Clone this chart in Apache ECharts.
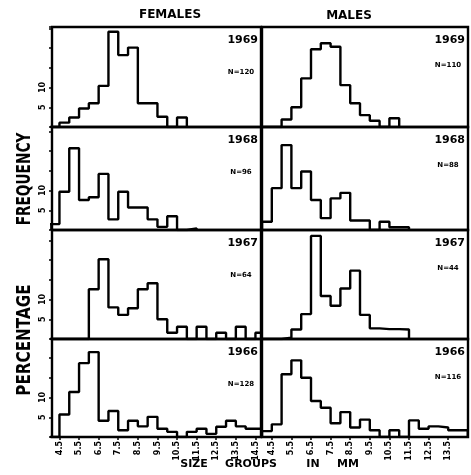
<!DOCTYPE html>
<html>
<head>
<meta charset="utf-8">
<script src="https://cdn.jsdelivr.net/npm/echarts@6/dist/echarts.min.js"></script>
<style>
html, body { margin: 0; padding: 0; background: #fff; }
#chart { width: 471px; height: 475px; }
</style>
</head>
<body>
<div id="chart"></div>
<script>
// size groups (mm): bins of 0.5 mm, first bin starts at 4.0
var binStart = 4.0
var binWidth = 0.5
var sizeTicksLeft = [4.5, 5.5, 6.5, 7.5, 8.5, 9.5, 10.5, 11.5, 12.5, 13.5, 14.5]
var sizeTicksRight = [4.5, 5.5, 6.5, 7.5, 8.5, 9.5, 10.5, 11.5, 12.5, 13.5]
var years = ['1969', '1968', '1967', '1966']
var femaleN = ['N=120', 'N=96', 'N=64', 'N=128']
var maleN = ['N=110', 'N=88', 'N=44', 'N=116']

// percentage frequency per bin
var female1969 = [0, 1.1, 2.4, 4.7, 6.0, 10.4, 24.1, 18.2, 20.1, 6.0, 6.0, 2.6, 0, 2.4]
var male1969 = [0, 0, 1.9, 5.0, 12.3, 19.7, 21.2, 20.3, 10.6, 6.0, 3.0, 1.6, 0, 2.2]
var female1968 = [1.5, 9.7, 20.7, 7.6, 8.3, 14.2, 2.7, 9.7, 5.7, 5.7, 2.7, 0.8, 3.5, 0, 0.4]
var male1968 = [2.1, 10.6, 21.5, 10.6, 14.8, 7.6, 3.0, 8.0, 9.4, 2.4, 2.4, 0, 2.1, 0.7, 0.7]
var female1967 = [0, 0, 0, 0, 12.6, 20.2, 8.0, 6.1, 7.8, 12.6, 14.1, 5.0, 1.6, 3.1, 0, 3.1, 0, 1.6, 0, 3.1, 0, 1.6]
var male1967 = [0, 0, 0.3, 2.4, 6.3, 26.1, 10.9, 8.4, 12.8, 17.3, 6.1, 2.7, 2.5, 2.5, 2.4]
var female1966 = [0, 5.7, 11.4, 18.7, 21.5, 4.1, 6.6, 1.7, 4.1, 2.7, 5.1, 2.1, 1.3, 0, 1.3, 2.1, 0.8, 2.6, 4.1, 2.7, 2.1, 2.1]
var male1966 = [1.5, 3.2, 15.9, 19.4, 15.0, 9.1, 7.4, 3.5, 6.3, 2.4, 4.4, 1.7, 0, 1.7, 0, 4.2, 2.1, 2.7, 2.4, 1.7, 1.7]

var femaleData = [female1969, female1968, female1967, female1966]
var maleData = [male1969, male1968, male1967, male1966]

var chart = echarts.init(document.getElementById('chart'))

var pxPerMm = 19.6
var pxPerPct = 3.95
var rowTop = [27, 127, 230, 339]
var rowHeight = [100, 103, 109, 98]
var cols = [
  { left: 52, width: 209, min: 4.12, ticks: sizeTicksLeft, data: femaleData, n: femaleN },
  { left: 262, width: 206, min: 4.0, ticks: sizeTicksRight, data: maleData, n: maleN }
]
var boldFont = 'bold 11px "DejaVu Sans", sans-serif'

// histogram outline: points at bin starts, drawn as steps
function stepPoints(values) {
  var pts = [[binStart, 0]]
  values.forEach(function(v, i) {
    pts.push([binStart + i * binWidth, v])
  })
  pts.push([binStart + values.length * binWidth, 0])
  return pts
}

var grids = []
var xAxes = []
var yAxes = []
var series = []
var graphics = []

for (var r = 0; r < 4; r++) {
  for (var c = 0; c < 2; c++) {
    var idx = grids.length
    var col = cols[c]
    var last = r === 3
    grids.push({
      left: col.left,
      top: rowTop[r],
      width: col.width,
      height: rowHeight[r],
      show: true,
      borderColor: '#000',
      borderWidth: 2.4
    })
    xAxes.push({
      type: 'value',
      gridIndex: idx,
      min: col.min,
      max: col.min + col.width / pxPerMm,
      axisLine: { show: false },
      splitLine: { show: false },
      axisTick: {
        show: last,
        customValues: col.ticks,
        length: 3,
        lineStyle: { color: '#000', width: 1.5 }
      },
      axisLabel: {
        show: last,
        customValues: col.ticks,
        rotate: 90,
        margin: 4,
        color: '#000',
        fontSize: 8,
        fontWeight: 'bold',
        fontFamily: 'DejaVu Sans',
        formatter: function(v) { return v.toFixed(1) }
      }
    })
    yAxes.push({
      type: 'value',
      gridIndex: idx,
      min: 0,
      max: rowHeight[r] / pxPerPct,
      interval: 5,
      axisLine: { show: false },
      splitLine: { show: false },
      axisTick: {
        show: c === 0,
        length: 3,
        lineStyle: { color: '#000', width: 1.5 }
      },
      axisLabel: {
        show: c === 0,
        rotate: 90,
        margin: 5,
        color: '#000',
        fontSize: 8,
        fontWeight: 'bold',
        fontFamily: 'DejaVu Sans',
        formatter: function(v) { return (v === 5 || v === 10) ? String(v) : '' }
      }
    })
    series.push({
      type: 'line',
      xAxisIndex: idx,
      yAxisIndex: idx,
      step: 'end',
      symbol: 'none',
      clip: true,
      lineStyle: { color: '#000', width: 2.4 },
      data: stepPoints(col.data[r])
    })
    // year and sample size
    graphics.push({
      type: 'text',
      x: col.left + col.width - 3,
      y: rowTop[r] + 13,
      style: { text: years[r], font: boldFont, fill: '#000', align: 'right', verticalAlign: 'middle' }
    })
    graphics.push({
      type: 'text',
      x: col.left + col.width - 20,
      y: rowTop[r] + (c === 0 ? 45 : 38),
      style: { text: col.n[r], font: 'bold 7px "DejaVu Sans", sans-serif', fill: '#000', align: 'center', verticalAlign: 'middle' }
    })
  }
}

graphics.push(
  { type: 'text', x: 170, y: 15, style: { text: 'FEMALES', font: 'bold 12px "DejaVu Sans", sans-serif', fill: '#000', align: 'center', verticalAlign: 'middle' } },
  { type: 'text', x: 349, y: 16, style: { text: 'MALES', font: 'bold 12px "DejaVu Sans", sans-serif', fill: '#000', align: 'center', verticalAlign: 'middle' } },
  { type: 'text', x: 25, y: 179, rotation: Math.PI / 2, scaleX: 0.72, style: { text: 'FREQUENCY', font: 'bold 19px "DejaVu Sans", sans-serif', fill: '#000', align: 'center', verticalAlign: 'middle' } },
  { type: 'text', x: 25, y: 340, rotation: Math.PI / 2, scaleX: 0.8, style: { text: 'PERCENTAGE', font: 'bold 19px "DejaVu Sans", sans-serif', fill: '#000', align: 'center', verticalAlign: 'middle' } },
  { type: 'text', x: 194, y: 464, style: { text: 'SIZE', font: boldFont, fill: '#000', align: 'center', verticalAlign: 'middle' } },
  { type: 'text', x: 251, y: 464, style: { text: 'GROUPS', font: boldFont, fill: '#000', align: 'center', verticalAlign: 'middle' } },
  { type: 'text', x: 313, y: 464, style: { text: 'IN', font: boldFont, fill: '#000', align: 'center', verticalAlign: 'middle' } },
  { type: 'text', x: 348, y: 464, style: { text: 'MM', font: boldFont, fill: '#000', align: 'center', verticalAlign: 'middle' } }
)

chart.setOption({
  backgroundColor: '#fff',
  animation: false,
  grid: grids,
  xAxis: xAxes,
  yAxis: yAxes,
  series: series,
  graphic: graphics
})
</script>
</body>
</html>
